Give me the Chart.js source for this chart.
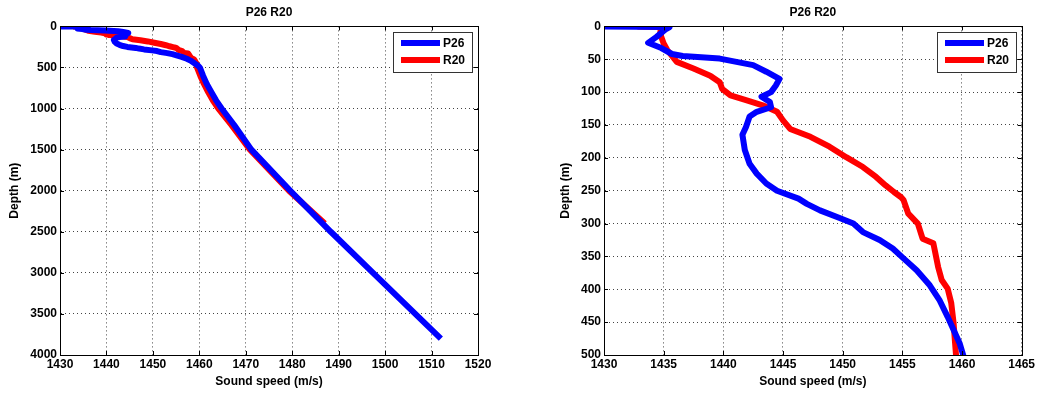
<!DOCTYPE html>
<html>
<head>
<meta charset="utf-8">
<script src="https://cdn.jsdelivr.net/npm/chart.js@4/dist/chart.umd.min.js"></script>
<style>
  body { margin: 0; background: #fff; }
  .box { position: absolute; top: 0; height: 397px; }
  #leftBox { left: 0; width: 520px; }
  #rightBox { left: 520px; width: 517px; }
</style>
</head>
<body>
<div class="box" id="leftBox"><canvas id="full"></canvas></div>
<div class="box" id="rightBox"><canvas id="zoom"></canvas></div>
<script>
// profile P26 (depth in m, sound speed in m/s)
const p26Depth = [0, 1, 4, 16, 25, 33, 42, 45, 49, 59, 69, 80, 90, 100, 107, 115, 123, 130, 137, 153, 165, 188, 209, 224, 239, 250, 262, 270, 280, 292, 300, 313, 325, 338, 353, 371, 394, 416, 442, 462, 482, 500, 600, 700, 800, 900, 1000, 1200, 1500, 2000, 2500, 3000, 3500, 3800];
const p26Speed = [1430.0, 1435.5, 1435.2, 1434.4, 1433.7, 1434.8, 1435.7, 1436.6, 1439.7, 1442.5, 1443.6, 1444.7, 1444.4, 1444.0, 1443.2, 1443.9, 1444.0, 1442.8, 1442.2, 1441.9, 1441.6, 1441.8, 1442.2, 1442.8, 1443.6, 1444.5, 1446.3, 1447.0, 1448.1, 1449.8, 1450.9, 1451.7, 1453.1, 1454.2, 1455.1, 1456.2, 1457.3, 1458.1, 1458.8, 1459.3, 1459.8, 1460.1, 1460.8, 1461.6, 1462.6, 1463.6, 1464.8, 1467.5, 1471.2, 1479.6, 1488.3, 1497.4, 1506.5, 1512.0];

// profile R20
const r20Depth = [0, 1, 11, 26, 36, 47, 54, 64, 75, 85, 95, 105, 112, 120, 130, 143, 156, 168, 183, 199, 214, 229, 242, 252, 260, 264, 285, 300, 323, 330, 366, 386, 399, 421, 452, 477, 500, 600, 700, 800, 900, 1000, 1200, 1500, 2000, 2400];
const r20Speed = [1432.8, 1434.8, 1434.7, 1435.0, 1435.3, 1435.8, 1436.1, 1437.5, 1438.9, 1439.7, 1439.9, 1440.6, 1441.9, 1443.3, 1444.5, 1445.0, 1445.6, 1447.3, 1448.9, 1450.3, 1451.7, 1452.8, 1453.6, 1454.3, 1454.9, 1455.1, 1455.5, 1456.3, 1456.7, 1457.6, 1458.0, 1458.3, 1458.8, 1459.1, 1459.3, 1459.4, 1459.5, 1460.2, 1461.0, 1461.9, 1462.9, 1464.1, 1466.9, 1470.9, 1479.3, 1487.0];

const seriesNames = ['P26', 'R20'];
const seriesColors = ['#0000ff', '#ff0000'];

const FONT = "'Liberation Sans', Arial, sans-serif";

function toPoints(depths, speeds) {
    return depths.map((d, i) => ({ x: speeds[i], y: d }));
}

// matlab style box, inward ticks and legend
const matlabBox = {
    id: 'matlabBox',
    afterDraw(chart) {
        const c = chart.ctx;
        const a = chart.chartArea;
        const xs = chart.scales.x, ys = chart.scales.y;
        c.save();
        c.strokeStyle = '#000';
        c.lineWidth = 1;
        c.beginPath();
        xs.ticks.forEach(t => {
            const px = Math.round(xs.getPixelForValue(t.value)) + 0.5;
            c.moveTo(px, a.bottom); c.lineTo(px, a.bottom - 4);
            c.moveTo(px, a.top); c.lineTo(px, a.top + 4);
        });
        ys.ticks.forEach(t => {
            const py = Math.round(ys.getPixelForValue(t.value)) + 0.5;
            c.moveTo(a.left, py); c.lineTo(a.left + 4, py);
            c.moveTo(a.right, py); c.lineTo(a.right - 4, py);
        });
        c.stroke();
        c.strokeRect(Math.round(a.left) + 0.5, Math.round(a.top) + 0.5,
            Math.round(a.right - a.left), Math.round(a.bottom - a.top));

        // legend
        const w = 79, h = 40;
        const lx = Math.round(a.right) - 6 - w, ly = Math.round(a.top) + 6;
        c.fillStyle = '#fff';
        c.fillRect(lx, ly, w, h);
        c.strokeStyle = '#333';
        c.strokeRect(lx + 0.5, ly + 0.5, w, h);
        c.font = 'bold 12px ' + FONT;
        c.textBaseline = 'middle';
        chart.data.datasets.forEach((ds, i) => {
            const yy = ly + 11 + i * 17;
            c.strokeStyle = ds.borderColor;
            c.lineWidth = 6;
            c.beginPath();
            c.moveTo(lx + 8, yy); c.lineTo(lx + 47, yy);
            c.stroke();
            c.fillStyle = '#000';
            c.fillText(ds.label, lx + 50, yy + 1);
        });
        c.restore();
    }
};

const plain = v => String(v);

function makeChart(id, xMax, xStep, yMax, yStep, yWidth, yTitlePad, rightPad) {
    return new Chart(document.getElementById(id), {
        type: 'scatter',
        data: {
            datasets: [
                { label: seriesNames[0], data: toPoints(p26Depth, p26Speed) },
                { label: seriesNames[1], data: toPoints(r20Depth, r20Speed) }
            ].map((ds, i) => Object.assign(ds, {
                showLine: true,
                borderColor: seriesColors[i],
                backgroundColor: seriesColors[i],
                borderWidth: 6,
                pointRadius: 0,
                tension: 0,
                borderJoinStyle: 'round'
            }))
        },
        options: {
            responsive: true,
            maintainAspectRatio: false,
            animation: false,
            layout: { padding: { left: 0, right: rightPad, top: 0, bottom: 0 } },
            plugins: {
                legend: { display: false },
                tooltip: { enabled: false },
                title: {
                    display: true,
                    text: 'P26 R20',
                    color: '#000',
                    fullSize: false,
                    font: { family: FONT, size: 12, weight: 'bold' },
                    padding: { top: 5, bottom: 7 }
                }
            },
            scales: {
                x: {
                    type: 'linear',
                    min: 1430, max: xMax,
                    afterFit(s) { s.height = 42; },
                    ticks: {
                        stepSize: xStep, autoSkip: false, maxRotation: 0, padding: 2,
                        callback: plain,
                        color: '#000', font: { family: FONT, size: 12, weight: 'bold' }
                    },
                    grid: { color: '#444', lineWidth: 1, drawTicks: false },
                    border: { display: true, color: '#000', dash: [1, 3] },
                    title: {
                        display: true, text: 'Sound speed (m/s)', color: '#000',
                        font: { family: FONT, size: 12, weight: 'bold' },
                        padding: { top: 0, bottom: 8 }
                    }
                },
                y: {
                    type: 'linear',
                    reverse: true,
                    min: 0, max: yMax,
                    afterFit(s) { s.width = yWidth; },
                    ticks: {
                        stepSize: yStep, autoSkip: false, padding: 3,
                        callback: plain,
                        color: '#000', font: { family: FONT, size: 12, weight: 'bold' }
                    },
                    grid: { color: '#444', lineWidth: 1, drawTicks: false },
                    border: { display: true, color: '#000', dash: [1, 3] },
                    title: {
                        display: true, text: 'Depth (m)', color: '#000',
                        font: { family: FONT, size: 12, weight: 'bold' },
                        padding: { top: yTitlePad, bottom: 0 }
                    }
                }
            }
        },
        plugins: [matlabBox]
    });
}

makeChart('full', 1520, 10, 4000, 500, 60, 7, 42);
makeChart('zoom', 1465, 5, 500, 50, 84, 38, 15);
</script>
</body>
</html>
